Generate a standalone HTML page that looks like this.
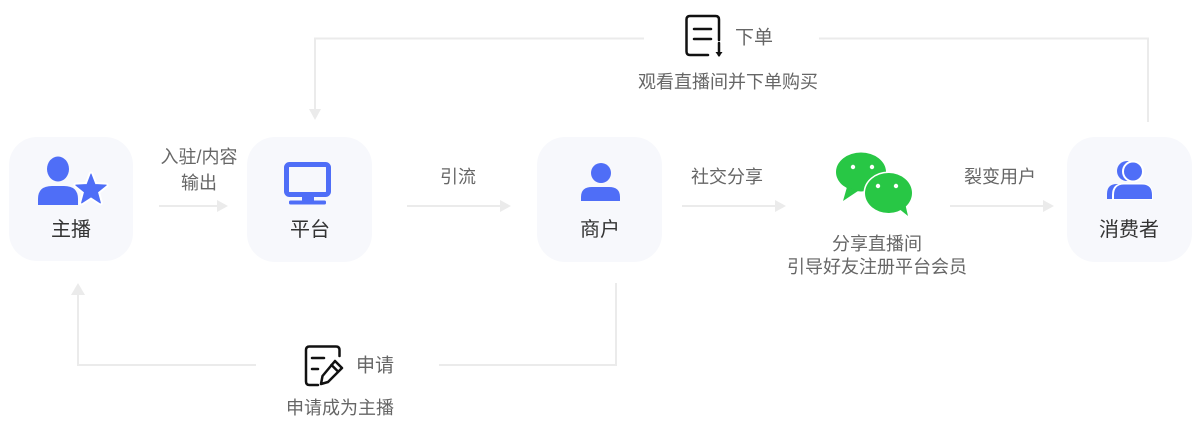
<!DOCTYPE html>
<html><head><meta charset="utf-8"><style>
html,body{margin:0;padding:0;background:#fff;}
svg{display:block;}
text{font-family:"Liberation Sans","Noto Sans CJK SC",sans-serif;}
.lb{font-size:18px;fill:#666;}
.nd{font-size:20px;fill:#333;}
</style></head><body>
<svg width="1200" height="434" viewBox="0 0 1200 434" xmlns="http://www.w3.org/2000/svg">
<rect width="1200" height="434" fill="#fff"/>
<!-- boxes -->
<rect x="9" y="137" width="124" height="124" rx="28" fill="#f7f8fc"/>
<rect x="247" y="137" width="125" height="125" rx="28" fill="#f7f8fc"/>
<rect x="537" y="137" width="125" height="125" rx="28" fill="#f7f8fc"/>
<rect x="1067" y="137" width="125" height="125" rx="28" fill="#f7f8fc"/>

<!-- connectors -->
<g stroke="#ebebeb" stroke-width="2" fill="none">
<path d="M315 111 V38.5 H644"/>
<path d="M819 38.5 H1148 V122"/>
<path d="M78 294 V365 H256"/>
<path d="M439 365 H616 V283"/>
<line x1="159" y1="206" x2="218" y2="206"/>
<line x1="407" y1="206" x2="501" y2="206"/>
<line x1="682" y1="206" x2="776" y2="206"/>
<line x1="950" y1="206" x2="1044" y2="206"/>
</g>
<g fill="#ebebeb">
<polygon points="309,109 321,109 315,120"/>
<polygon points="71,295 85,295 78,283"/>
<polygon points="217,200 217,212 228,206"/>
<polygon points="500,200 500,212 511,206"/>
<polygon points="775,200 775,212 786,206"/>
<polygon points="1043,200 1043,212 1054,206"/>
</g>

<!-- 主播 icon -->
<g fill="#4f6ef7">
<ellipse cx="58" cy="169" rx="11" ry="12.5"/>
<path d="M38 205 V199 Q38 186 52 186 H64 Q78 186 78 199 V205 Z"/>
</g>
<polygon points="91,174 95,184.5 106.2,185.1 97.5,192.1 100.4,202.9 91,196.8 81.6,202.9 84.5,192.1 75.8,185.1 87,184.5" fill="#fff" stroke="#fff" stroke-width="5" stroke-linejoin="round"/>
<polygon points="91,174 95,184.5 106.2,185.1 97.5,192.1 100.4,202.9 91,196.8 81.6,202.9 84.5,192.1 75.8,185.1 87,184.5" fill="#4f6ef7" stroke="#4f6ef7" stroke-width="1" stroke-linejoin="round"/>

<!-- 平台 icon -->
<rect x="286.5" y="164.5" width="42" height="30" rx="3" fill="none" stroke="#4f6ef7" stroke-width="5"/>
<rect x="302" y="196" width="12" height="5" fill="#4f6ef7"/>
<rect x="289" y="200.5" width="37" height="4" rx="1.5" fill="#4f6ef7"/>

<!-- 商户 icon -->
<g fill="#4f6ef7">
<circle cx="601" cy="173" r="10"/>
<path d="M581 201 V197 Q581 187 592 187 H609 Q620 187 620 197 V201 Z"/>
</g>

<!-- wechat -->
<g>
<ellipse cx="861" cy="172" rx="25" ry="19.5" fill="#28c745"/>
<polygon points="847,187 843,201 858,191" fill="#28c745"/>
<ellipse cx="888.5" cy="193" rx="23.5" ry="20" fill="#28c745" stroke="#fff" stroke-width="3"/>
<ellipse cx="888.5" cy="193" rx="23.5" ry="20" fill="#28c745"/>
<polygon points="898,208 908,216 905,203" fill="#28c745"/>
<g fill="#fff">
<circle cx="853" cy="167" r="2.2"/><circle cx="872" cy="167" r="2.2"/>
<circle cx="878" cy="186" r="2.2"/><circle cx="896" cy="186" r="2.2"/>
</g>
</g>

<!-- 消费者 icon -->
<g fill="#4f6ef7">
<circle cx="1127" cy="171" r="10"/>
<path d="M1107 199 V194 Q1107 184 1117 184 H1140 V199 Z"/>
</g>
<circle cx="1133" cy="171.5" r="10" fill="#4f6ef7" stroke="#fff" stroke-width="2"/>
<path d="M1112 200 V195 Q1112 183 1124 183 H1141 Q1153 183 1153 195 V200 Z" fill="#fff"/>
<path d="M1114 199 V195 Q1114 184.5 1124 184.5 H1142 Q1152 184.5 1152 195 V199 Z" fill="#4f6ef7"/>

<!-- 下单 icon -->
<g fill="none" stroke="#111" stroke-width="2.5" stroke-linecap="round" stroke-linejoin="round">
<path d="M708 55 H690 Q686.5 55 686.5 51.5 V19.5 Q686.5 16 690 16 H715.5 Q719 16 719 19.5 V40"/>
<line x1="694" y1="29" x2="711" y2="29"/>
<line x1="694" y1="39" x2="711" y2="39"/>
<line x1="719" y1="43" x2="719" y2="55"/>
</g>
<polygon points="715.5,52 722.5,52 719,57" fill="#111"/>

<!-- 申请 icon -->
<g fill="none" stroke="#111" stroke-width="2.5" stroke-linecap="round" stroke-linejoin="round">
<path d="M318 385 H309.5 Q306 385 306 381.5 V350 Q306 346.5 309.5 346.5 H336 Q339.5 346.5 339.5 350 V356"/>
<line x1="312" y1="358" x2="324" y2="358"/>
<line x1="312" y1="369" x2="318" y2="369"/>
<path d="M335 361 L342 368 L328 382 L321 384 L322.5 376 Z"/>
<line x1="331.5" y1="365" x2="338" y2="371.5"/>
</g>

<!-- labels -->
<g text-anchor="middle" dominant-baseline="central">
<text class="lb" x="199" y="157">入驻/内容</text>
<text class="lb" x="199" y="183">输出</text>
<text class="lb" x="458" y="177">引流</text>
<text class="lb" x="727" y="177">社交分享</text>
<text class="lb" x="1000" y="177">裂变用户</text>
<text class="nd" x="71" y="230">主播</text>
<text class="nd" x="310" y="230">平台</text>
<text class="nd" x="600" y="230">商户</text>
<text class="nd" x="1129" y="230">消费者</text>
<text class="lb" x="877" y="244">分享直播间</text>
<text class="lb" x="877" y="267">引导好友注册平台会员</text>
<text class="lb" x="754" y="38" style="font-size:19px">下单</text>
<text class="lb" x="728" y="82">观看直播间并下单购买</text>
<text class="lb" x="375" y="366" style="font-size:19px">申请</text>
<text class="lb" x="340" y="408">申请成为主播</text>
</g>
</svg>
</body></html>
